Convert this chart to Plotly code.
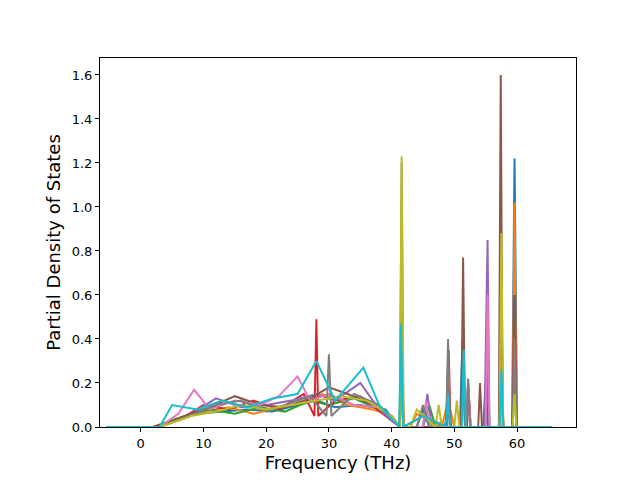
import plotly.graph_objects as go

# Partial DOS curves (sparse points per curve)
colors = ['#1f77b4', '#ff7f0e', '#2ca02c', '#d62728', '#9467bd',
          '#8c564b', '#e377c2', '#7f7f7f', '#bcbd22', '#17becf']

freq_0 = [-5.5, 2, 5, 9, 13, 17, 21, 25, 28, 31, 35, 39, 41.3, 41.6, 41.9, 44, 45, 46, 48.5, 49, 49.5, 50.9, 51.3, 51.7, 54.6, 55, 55.4, 59.2, 59.6, 60.0, 65.5]
pdos_0 = [0, 0, 0.03, 0.06, 0.07, 0.08, 0.07, 0.1, 0.12, 0.09, 0.1, 0.08, 0, 0.3, 0, 0, 0.08, 0, 0, 0.1, 0, 0, 0.4, 0, 0, 0.2, 0, 0, 1.22, 0, 0]

freq_1 = [-5.5, 2, 6, 10, 14, 18, 22, 26, 29, 33, 37, 40, 41.3, 41.6, 41.9, 43, 44, 48, 49, 50, 51.1, 51.4, 51.7, 57.2, 57.5, 57.8, 59.3, 59.6, 59.9, 65.5]
pdos_1 = [0, 0, 0.04, 0.07, 0.09, 0.06, 0.09, 0.11, 0.15, 0.1, 0.08, 0.05, 0, 0.2, 0, 0, 0.06, 0, 0.12, 0, 0, 0.3, 0, 0, 0.6, 0, 0, 1.02, 0, 0]

freq_2 = [-5.5, 2, 7, 11, 15, 19, 23, 27, 30, 34, 38, 40, 41.3, 41.6, 41.9, 45, 46, 47, 48.6, 49, 49.4, 51.8, 52.2, 52.6, 55, 55.3, 55.6, 57.2, 57.5, 57.8, 59.3, 59.6, 59.9, 65.5]
pdos_2 = [0, 0, 0.05, 0.08, 0.06, 0.09, 0.07, 0.12, 0.1, 0.13, 0.08, 0.05, 0, 0.5, 0, 0, 0.1, 0, 0, 0.15, 0, 0, 0.2, 0, 0, 0.3, 0, 0, 0.5, 0, 0, 0.3, 0, 0]

freq_3 = [-5.5, 2, 6, 10, 14, 18, 22, 26, 27.7, 28.0, 28.3, 31, 35, 39, 41.3, 41.6, 41.9, 45, 48.8, 49.1, 49.4, 52, 52.3, 52.6, 57.2, 57.5, 57.8, 59.3, 59.6, 59.9, 65.5]
pdos_3 = [0, 0, 0.03, 0.1, 0.08, 0.12, 0.08, 0.15, 0.05, 0.49, 0.05, 0.12, 0.14, 0.05, 0, 0.3, 0, 0.05, 0, 0.35, 0, 0, 0.15, 0, 0, 0.4, 0, 0, 0.6, 0, 0]

freq_4 = [-5.5, 3, 8, 12, 16, 20, 24, 28, 31, 35, 38, 41.3, 41.6, 41.9, 45, 45.7, 46.4, 48.7, 49, 49.3, 54.8, 55.3, 55.6, 57.2, 57.5, 57.8, 59.3, 59.6, 59.9, 65.5]
pdos_4 = [0, 0, 0.06, 0.13, 0.09, 0.1, 0.12, 0.15, 0.12, 0.2, 0.08, 0, 0.3, 0, 0, 0.15, 0, 0, 0.2, 0, 0, 0.85, 0, 0, 0.3, 0, 0, 0.5, 0, 0]

freq_5 = [-5.5, 3, 7, 11, 15, 19, 23, 27, 30, 33, 37, 40, 41.3, 41.6, 41.9, 48.7, 49, 49.3, 51.1, 51.4, 51.7, 53.8, 54.1, 54.4, 57.1, 57.4, 57.7, 59.3, 59.6, 59.9, 65.5]
pdos_5 = [0, 0, 0.05, 0.09, 0.14, 0.1, 0.09, 0.13, 0.18, 0.15, 0.1, 0.05, 0, 0.4, 0, 0, 0.3, 0, 0, 0.77, 0, 0, 0.2, 0, 0, 1.6, 0, 0, 0.6, 0, 0]

freq_6 = [-5.5, 3, 6, 8.5, 11, 15, 19, 22, 25, 27, 30, 34, 38, 40, 41.3, 41.6, 41.9, 45, 45.5, 46, 51.8, 52.2, 52.6, 55, 55.3, 55.6, 57.2, 57.5, 57.8, 65.5]
pdos_6 = [0, 0, 0.06, 0.17, 0.08, 0.12, 0.1, 0.14, 0.23, 0.12, 0.15, 0.1, 0.09, 0.05, 0, 0.2, 0, 0, 0.12, 0, 0, 0.2, 0, 0, 0.6, 0, 0, 0.2, 0, 0]

freq_7 = [-5.5, 3, 7, 12, 16, 20, 24, 27, 29.6, 30, 30.4, 34, 38, 41.3, 41.6, 41.9, 44, 45, 46, 48.7, 49, 49.3, 51.9, 52.2, 52.5, 57.2, 57.5, 57.8, 59.3, 59.6, 59.9, 65.5]
pdos_7 = [0, 0, 0.04, 0.1, 0.12, 0.07, 0.11, 0.14, 0.05, 0.33, 0.05, 0.15, 0.1, 0, 1.2, 0, 0, 0.1, 0, 0, 0.4, 0, 0, 0.22, 0, 0, 0.3, 0, 0, 0.4, 0, 0]

freq_8 = [-5.5, 3, 8, 12, 16, 20, 24, 28, 32, 36, 40, 41.3, 41.6, 41.9, 43, 44, 47, 47.5, 48, 50, 50.4, 50.8, 57.2, 57.5, 57.8, 59.3, 59.6, 59.9, 65.5]
pdos_8 = [0, 0, 0.05, 0.07, 0.1, 0.08, 0.1, 0.12, 0.14, 0.12, 0.05, 0, 1.23, 0, 0, 0.08, 0, 0.1, 0, 0, 0.12, 0, 0, 0.88, 0, 0, 0.15, 0, 0]

freq_9 = [-5.5, 3, 5, 9, 13, 17, 21, 25, 28, 31, 35.5, 38, 41.2, 41.5, 41.8, 45, 48.7, 49, 49.3, 51.2, 51.5, 51.8, 57.2, 57.5, 57.8, 65.5]
pdos_9 = [0, 0, 0.1, 0.08, 0.12, 0.09, 0.13, 0.15, 0.3, 0.12, 0.27, 0.1, 0, 0.47, 0, 0.05, 0, 0.15, 0, 0, 0.35, 0, 0, 0.26, 0, 0]

series = [(freq_0, pdos_0), (freq_1, pdos_1), (freq_2, pdos_2), (freq_3, pdos_3),
          (freq_4, pdos_4), (freq_5, pdos_5), (freq_6, pdos_6), (freq_7, pdos_7),
          (freq_8, pdos_8), (freq_9, pdos_9)]

fig = go.Figure()
for (x, y), c in zip(series, colors):
    fig.add_trace(go.Scatter(x=x, y=y, mode='lines', line=dict(color=c, width=2),
                             showlegend=False))

axis = dict(showgrid=False, zeroline=False, showline=True, linecolor='black', mirror=True,
            ticks='outside', ticklen=4, tickcolor='black', automargin=False,
            tickfont=dict(size=13, color='black'))
fig.update_xaxes(axis, range=[-6.5, 69.4], tickvals=[0, 10, 20, 30, 40, 50, 60],
                 title=dict(text='Frequency (THz)', font=dict(size=18, color='black'), standoff=6))
fig.update_yaxes(axis, range=[0, 1.677], tickvals=[0, 0.2, 0.4, 0.6, 0.8, 1.0, 1.2, 1.4, 1.6],
                 tickformat='.1f',
                 title=dict(text='Partial Density of States', font=dict(size=18, color='black'), standoff=6))
fig.update_layout(width=640, height=480, plot_bgcolor='white', paper_bgcolor='white',
                  font=dict(family='DejaVu Sans'),
                  margin=dict(l=92, r=72, t=50, b=61, autoexpand=False))
fig.write_html('out.html')
